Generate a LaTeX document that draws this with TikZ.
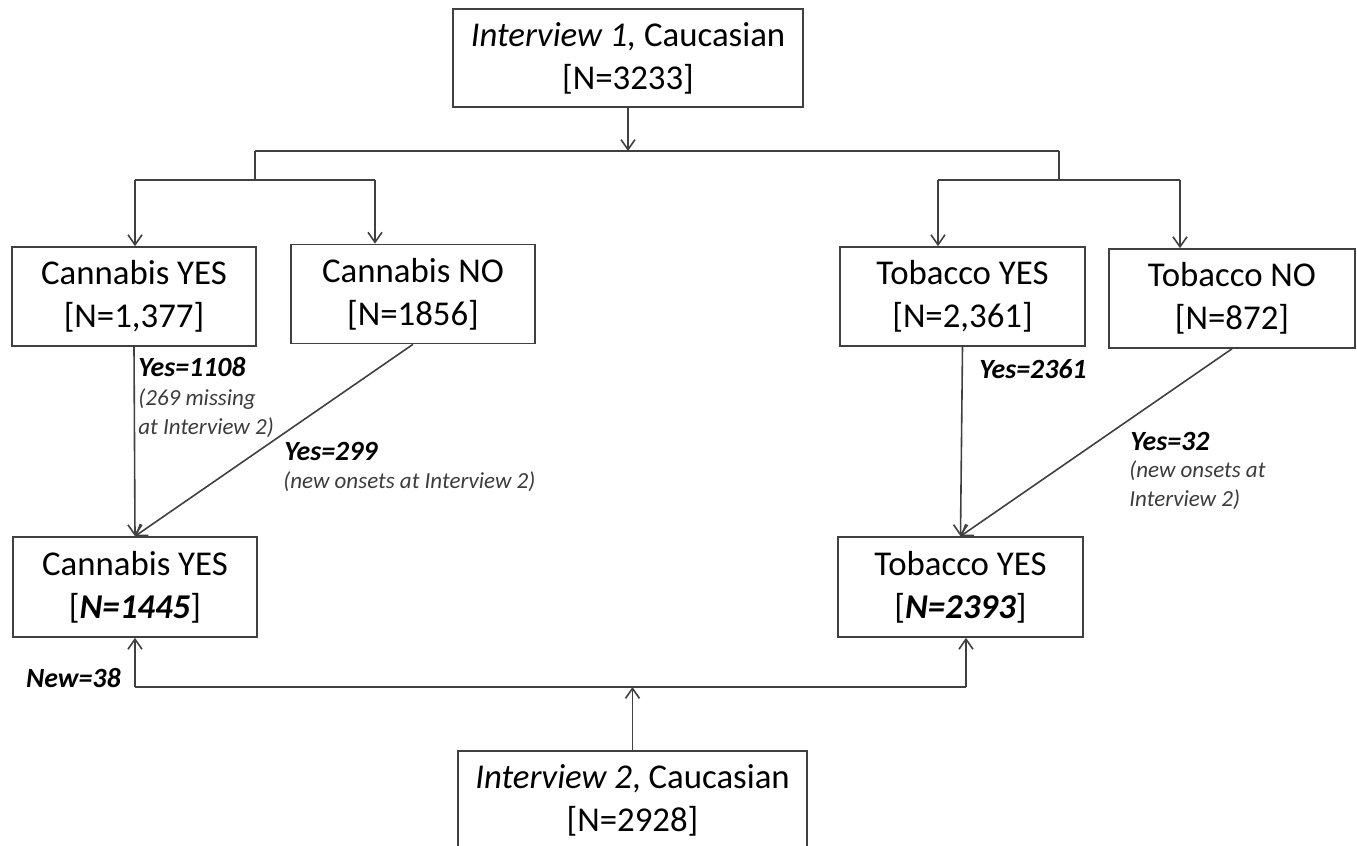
\documentclass[tikz,border=0pt]{standalone}
\usepackage{fontspec}
\setmainfont{Carlito}
\usetikzlibrary{positioning,arrows.meta}
\definecolor{linegray}{HTML}{404040}
\definecolor{notegray}{HTML}{3C3C3C}

\tikzset{
  flowbox/.style={draw=linegray, line width=0.8pt, align=center, inner sep=0pt,
    minimum width=122pt, minimum height=49.5pt, font=\fontsize{17.4}{21.5}\selectfont},
  link/.style={draw=linegray, line width=0.8pt},
  arr/.style={link, -{Straight Barb[length=5pt,width=7pt]}},
  lbl/.style={anchor=west, inner sep=0pt, font=\fontsize{13.9}{16}\selectfont\bfseries\itshape},
  notetext/.style={anchor=west, inner sep=0pt, align=left, text=notegray,
    font=\fontsize{11.5}{14.5}\selectfont\itshape}
}

\begin{document}
\begin{tikzpicture}[x=0.5pt, y=-0.5pt]
	\useasboundingbox (0,0) rectangle (1357,846);
	% boxes
	\node[flowbox, minimum width=175pt, minimum height=49pt] (int1) at (628,58) {\textit{Interview 1,} Caucasian\\{}[N=3233]};
	\node[flowbox] (cy1) at (134,296.5) {Cannabis YES\\{}[N=1,377]};
	\node[flowbox] (cn1) at (413,294) {Cannabis NO\\{}[N=1856]};
	\node[flowbox, minimum width=122.5pt] (ty1) at (962.5,296.5) {Tobacco YES\\{}[N=2,361]};
	\node[flowbox, minimum width=123pt] (tn1) at (1232,298.5) {Tobacco NO\\{}[N=872]};
	\node[flowbox, minimum height=50pt] (cy2) at (135,587) {Cannabis YES\\{}[\textbf{\textit{N=1445}}]};
	\node[flowbox, minimum width=122.5pt, minimum height=50pt] (ty2) at (960.5,587) {Tobacco YES\\{}[\textbf{\textit{N=2393}}]};
	\node[flowbox, anchor=north, minimum width=174.5pt, minimum height=50pt] (int2) at (632.5,750) {\textit{Interview 2}, Caucasian\\{}[N=2928]};

	% forks
	\coordinate (tl) at (255,151);
	\coordinate (tr) at (1059,151);
	\coordinate (lf1) at (135,180);
	\coordinate (lf2) at (375,180);
	\coordinate (rf1) at (938,180);
	\coordinate (rf2) at (1180,180);
	\coordinate (bl) at (135,687);
	\coordinate (br) at (966,687);

	\draw[arr] (int1.south) -- (int1.south |- tl);
	\draw[link] (tl) -- (tr);
	\draw[link] (tl) -- (tl |- lf1);
	\draw[link] (tr) -- (tr |- rf1);
	\draw[link] (lf1) -- (lf2);
	\draw[link] (rf1) -- (rf2);
	\draw[arr] (lf1) -- (lf1 |- cy1.north);
	\draw[arr] (lf2) -- (lf2 |- cn1.north);
	\draw[arr] (rf1) -- (rf1 |- ty1.north);
	\draw[arr] (rf2) -- (rf2 |- tn1.north);

	% second interview
	\draw[arr] (cy1.south) -- (cy2.north);
	\draw[arr] (cn1.south) -- (cy2.north);
	\draw[arr] (ty1.south) -- (ty2.north);
	\draw[arr] (tn1.south) -- (ty2.north);

	\draw[arr] (int2.north) -- (int2.north |- bl);
	\draw[link] (bl) -- (br);
	\draw[arr] (bl) -- (cy2.south);
	\draw[arr] (br) -- (br |- ty2.south);

	% labels
	\node[lbl] (yes1108) at (138,367) {Yes=1108};
	\node[notetext] (miss) at (138,413.5) {(269 missing\\at Interview 2)};
	\node[lbl] (yes299) at (284,451) {Yes=299};
	\node[notetext] (onc) at (283,482) {(new onsets at Interview 2)};
	\node[lbl] (yes2361) at (979,369) {Yes=2361};
	\node[lbl] (yes32) at (1130,441) {Yes=32};
	\node[notetext] (ont) at (1129,485.5) {(new onsets at\\Interview 2)};
	\node[lbl, anchor=east] (new38) at (121,678) {New=38};
\end{tikzpicture}
\end{document}
